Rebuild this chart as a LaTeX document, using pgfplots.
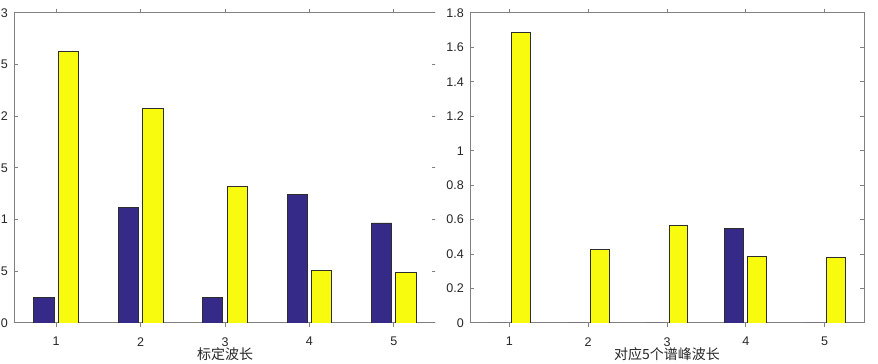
\documentclass[border=0pt]{standalone}
\usepackage{fontspec}
\setmainfont{Liberation Sans}
\newfontfamily\cjk{Noto Sans CJK SC}
\usepackage{pgfplots}
\pgfplotsset{compat=1.18}
\definecolor{mblue}{RGB}{53,42,135}
\definecolor{myellow}{RGB}{249,251,14}
\definecolor{axgray}{RGB}{128,128,128}
\definecolor{edgec}{RGB}{45,45,45}
\pgfplotsset{
  mystyle/.style={
    scale only axis,
    height=232.5pt,
    xmin=0.5, xmax=5.5, ymin=0,
    xtick={1,2,3,4,5},
    tick pos=both, tick align=inside,
    major tick length=3pt,
    axis line style={axgray, line width=0.75pt},
    every tick/.style={axgray, line width=0.75pt},
    tick label style={font=\fontsize{9.4}{11}\selectfont, text=black!85},
    /pgf/number format/assume math mode=true,
    yticklabel style={inner sep=0pt, anchor=east, xshift=-4.5pt},
    xticklabel style={inner sep=0pt, anchor=north, yshift=-7.5pt},
    xlabel style={font=\cjk\fontsize{10.5}{12}\selectfont, inner sep=0pt, at={(axis description cs:0.5,0)}, anchor=north, yshift=-18pt, text=black!85},
    ybar, bar width=0.24,
    /pgf/number format/fixed,
  },
  bluebar/.style={fill=mblue, draw=edgec, line width=0.7pt, bar shift=-0.145},
  yellowbar/.style={fill=myellow, draw=edgec, line width=0.7pt, bar shift=0.145},
}
\begin{document}
\begin{tikzpicture}
\useasboundingbox (-10.5pt,-30.75pt) rectangle (648pt,242.25pt);
\begin{scope}
\clip (-10.5pt,-30.75pt) rectangle (315.75pt,242.25pt);
\begin{axis}[mystyle, at={(0pt,0pt)}, anchor=south west,
  width=316.5pt, ymax=3, ytick={0,0.5,1,1.5,2,2.5,3},
  xlabel={标定波长}]
\addplot[bluebar] coordinates {(1,0.25) (2,1.12) (3,0.246) (4,1.246) (5,0.968)};
\addplot[yellowbar] coordinates {(1,2.63) (2,2.075) (3,1.317) (4,0.508) (5,0.492)};
\end{axis}
\end{scope}
\begin{axis}[mystyle, at={(342pt,0pt)}, anchor=south west,
  width=295.5pt, ymax=1.8, ytick={0,0.2,0.4,0.6,0.8,1,1.2,1.4,1.6,1.8},
  xlabel={对应5个谱峰波长}]
\addplot[bluebar] coordinates {(1,0) (2,0) (3,0) (4,0.546) (5,0)};
\addplot[yellowbar] coordinates {(1,1.687) (2,0.427) (3,0.567) (4,0.386) (5,0.38)};
\end{axis}
\end{tikzpicture}
\end{document}
